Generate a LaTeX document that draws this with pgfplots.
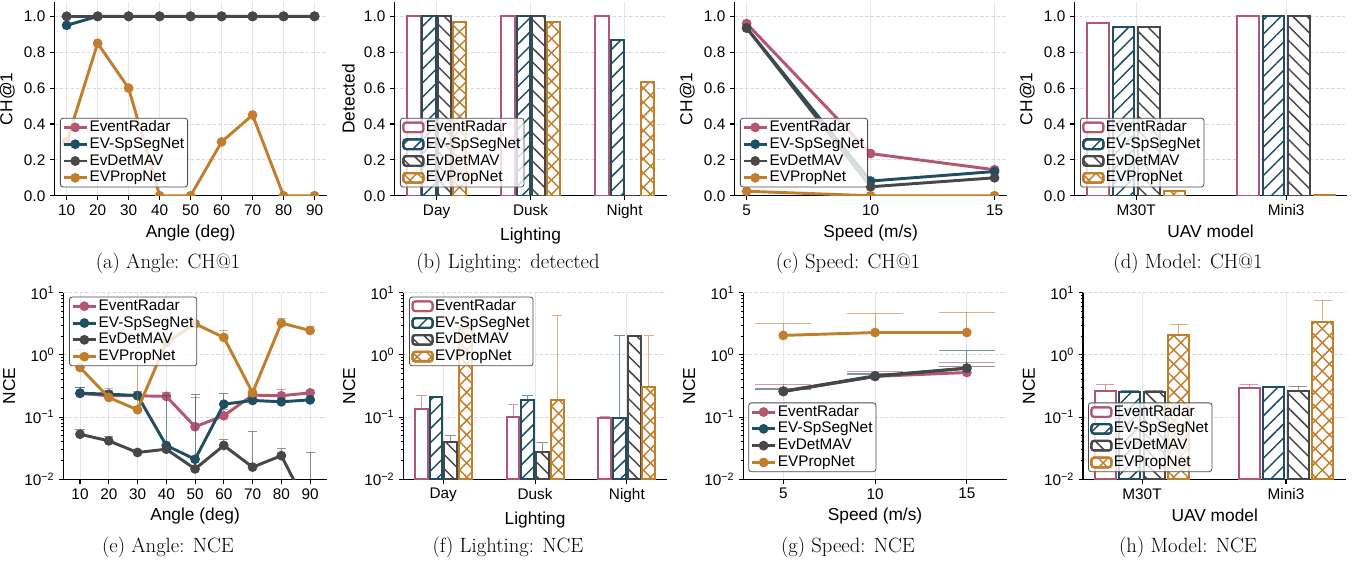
\documentclass[border=0pt]{standalone}
\usepackage{fontspec}
\setsansfont{Liberation Sans}
\usepackage{pgfplots}
\pgfplotsset{compat=1.18}
\usetikzlibrary{patterns.meta}
\definecolor{cER}{HTML}{B5566F}
\definecolor{cSP}{HTML}{1D4E63}
\definecolor{cDT}{HTML}{474747}
\definecolor{cPN}{HTML}{C17F2E}
\definecolor{gridc}{HTML}{E6E6E6}
\newcommand{\tickfont}{\sffamily\fontsize{11.5}{12}\selectfont}
\newcommand{\labfont}{\sffamily\fontsize{13}{14}\selectfont}
\newcommand{\legfont}{\sffamily\fontsize{11.5}{12}\selectfont}
\newcommand{\capfont}{\rmfamily\fontsize{15.5}{17}\selectfont}
\pgfplotsset{
  base/.style={
    scale only axis,
    axis lines*=left,
    axis line style={line width=1.1pt,-},
    tick style={black, line width=0.8pt},
    major tick length=3.2pt,
    minor tick length=1.8pt,
    tick align=outside,
    xmajorgrids, ymajorgrids,
    x grid style={gridc, line width=0.6pt, solid},
    y grid style={black!15, line width=0.6pt, dash pattern=on 2.5pt off 1.6pt},
    tick label style={font=\tickfont},
    label style={font=\labfont},
    legend style={font=\legfont, draw=black!70, line width=0.6pt, rounded corners=2pt,
      fill=white, fill opacity=0.8, draw opacity=1, text opacity=1,
      inner xsep=1.5pt, inner ysep=0.6pt,
      nodes={inner sep=1.1pt, text height=8.2pt, text depth=2.2pt}},
    legend cell align=left,
    clip marker paths=true,
  },
  toprow/.style={base, width=204.5pt, height=145.3pt, ymin=0, ymax=1.08,
    ytick={0,0.2,0.4,0.6,0.8,1.0}, yticklabels={0.0,0.2,0.4,0.6,0.8,1.0},
    legend style={at={(0.021,0.043)}, anchor=south west}},
  botrow/.style={base, width=197.6pt, height=140.1pt, ymin=0.01, ymax=10,
    ytick={0.01,0.1,1,10},
    yticklabels={10\textsuperscript{−2},10\textsuperscript{−1},10\textsuperscript{0},10\textsuperscript{1}},
    minor ytick={0.02,0.03,0.04,0.05,0.06,0.07,0.08,0.09,0.2,0.3,0.4,0.5,0.6,0.7,0.8,0.9,2,3,4,5,6,7,8,9},
    ylabel={NCE}},
  lER/.style={color=cER, line width=2.2pt, mark=*, mark size=2.5pt, mark options={solid}},
  lSP/.style={color=cSP, line width=2.2pt, mark=*, mark size=2.5pt, mark options={solid}},
  lDT/.style={color=cDT, line width=2.2pt, mark=*, mark size=2.5pt, mark options={solid}},
  lPN/.style={color=cPN, line width=2.2pt, mark=*, mark size=2.5pt, mark options={solid}},
  eb/.style={error bars/y dir=plus, error bars/y explicit,
    error bars/error bar style={line width=0.75pt, opacity=0.6, solid},
    error bars/error mark options={rotate=90, mark size=#1, line width=0.75pt, opacity=0.6}},
  bbase/.style={ybar, bar shift=0pt, line width=1.5pt,
    legend image code/.code={\draw[##1] (0pt,-3.6pt) rectangle (15pt,3.6pt);}},
  bER/.style={bbase, color=cER, draw=cER, preaction={fill=white}},
  bSP/.style={bbase, color=cSP, draw=cSP, preaction={fill=white},
    preaction={pattern={Lines[angle=45,distance=7.5pt,line width=1.1pt]}, pattern color=cSP}},
  bDT/.style={bbase, color=cDT, draw=cDT, preaction={fill=white},
    preaction={pattern={Lines[angle=-45,distance=7.5pt,line width=1.1pt]}, pattern color=cDT}},
  bPN/.style={bbase, color=cPN, draw=cPN, preaction={fill=white},
    preaction={pattern={Lines[angle=45,distance=7.5pt,line width=1.1pt]}, pattern color=cPN},
    preaction={pattern={Lines[angle=-45,distance=7.5pt,line width=1.1pt]}, pattern color=cPN}},
}
\begin{document}
\begin{tikzpicture}
\path[use as bounding box] (0,0) rectangle (1017.75pt,421.5pt);
% ---------------- (a)
\begin{axis}[toprow, at={(40.7pt,274.7pt)}, anchor=south west, xmin=6, xmax=94,
  xtick={10,20,30,40,50,60,70,80,90}, xticklabels={10,20,30,40,50,60,70,80,90},
  xlabel={Angle (deg)}, ylabel={CH@1}]
\addplot[lER] coordinates {(10,1)(20,1)(30,1)(40,1)(50,1)(60,1)(70,1)(80,1)(90,1)};
\addlegendentry{EventRadar}
\addplot[lSP] coordinates {(10,0.95)(20,1)(30,1)(40,1)(50,1)(60,1)(70,1)(80,1)(90,1)};
\addlegendentry{EV-SpSegNet}
\addplot[lDT] coordinates {(10,1)(20,1)(30,1)(40,1)(50,1)(60,1)(70,1)(80,1)(90,1)};
\addlegendentry{EvDetMAV}
\addplot[lPN] coordinates {(10,0.3)(20,0.85)(30,0.6)(40,0)(50,0)(60,0.3)(70,0.45)(80,0)(90,0)};
\addlegendentry{EVPropNet}
\end{axis}
% ---------------- (b)
\begin{axis}[toprow, at={(295.7pt,274.7pt)}, anchor=south west, xmin=-0.45, xmax=2.45,
  xtick={0,1,2}, xticklabels={Day,Dusk,Night}, bar width=0.14,
  xlabel={Lighting}, ylabel={Detected}]
\addplot[bER] coordinates {(-0.24,1)(0.76,1)(1.76,1)};
\addlegendentry{EventRadar}
\addplot[bSP] coordinates {(-0.08,1)(0.92,1)(1.92,0.87)};
\addlegendentry{EV-SpSegNet}
\addplot[bDT] coordinates {(0.08,1)(1.08,1)(2.08,0)};
\addlegendentry{EvDetMAV}
\addplot[bPN] coordinates {(0.24,0.97)(1.24,0.97)(2.24,0.635)};
\addlegendentry{EVPropNet}
\end{axis}
% ---------------- (c)
\begin{axis}[toprow, at={(550.7pt,274.7pt)}, anchor=south west, xmin=4.5, xmax=15.5,
  xtick={5,10,15}, xticklabels={5,10,15},
  xlabel={Speed (m/s)}, ylabel={CH@1}]
\addplot[lER] coordinates {(5,0.96)(10,0.235)(15,0.145)};
\addlegendentry{EventRadar}
\addplot[lSP] coordinates {(5,0.935)(10,0.082)(15,0.135)};
\addlegendentry{EV-SpSegNet}
\addplot[lDT] coordinates {(5,0.935)(10,0.05)(15,0.10)};
\addlegendentry{EvDetMAV}
\addplot[lPN] coordinates {(5,0.025)(10,0.0)(15,0.0)};
\addlegendentry{EVPropNet}
\end{axis}
% ---------------- (d)
\begin{axis}[toprow, at={(805.7pt,274.7pt)}, anchor=south west, xmin=-0.413, xmax=1.405,
  xtick={0,1}, xticklabels={M30T,Mini3}, bar width=0.145,
  xlabel={UAV model}, ylabel={CH@1}]
\addplot[bER] coordinates {(-0.255,0.965)(0.745,1.0)};
\addlegendentry{EventRadar}
\addplot[bSP] coordinates {(-0.085,0.94)(0.915,1.0)};
\addlegendentry{EV-SpSegNet}
\addplot[bDT] coordinates {(0.085,0.94)(1.085,1.0)};
\addlegendentry{EvDetMAV}
\addplot[bPN] coordinates {(0.255,0.025)(1.255,0.004)};
\addlegendentry{EVPropNet}
\end{axis}
% ---------------- (e)
\begin{semilogyaxis}[botrow, at={(47.5pt,62pt)}, anchor=south west, xmin=4.2, xmax=95.8,
  xtick={10,20,30,40,50,60,70,80,90}, xticklabels={10,20,30,40,50,60,70,80,90},
  xlabel={Angle (deg)},
  legend style={at={(0.022,0.978)}, anchor=north west}]
\addplot[lER, eb=3.4pt] coordinates {(10,0.24)+-(0,0.06)(20,0.22)+-(0,0.05)(30,0.22)+-(0,0.04)(40,0.215)+-(0,0.035)(50,0.07)+-(0,0.14)(60,0.105)+-(0,0.025)(70,0.225)+-(0,0.035)(80,0.22)+-(0,0.06)(90,0.245)+-(0,0.025)};
\addlegendentry{EventRadar}
\addplot[lSP, eb=3.4pt] coordinates {(10,0.242)+-(0,0.058)(20,0.233)+-(0,0.017)(30,0.222)+-(0,0.013)(40,0.035)+-(0,0.185)(50,0.021)+-(0,0.207)(60,0.161)+-(0,0.075)(70,0.185)+-(0,0.015)(80,0.176)+-(0,0.014)(90,0.189)+-(0,0.011)};
\addlegendentry{EV-SpSegNet}
\addplot[lDT, eb=3.4pt] coordinates {(10,0.053)+-(0,0.011)(20,0.0415)+-(0,0.0065)(30,0.027)+-(0,0.002)(40,0.0305)+-(0,0.0035)(50,0.0147)+-(0,0.0013)(60,0.035)+-(0,0.008)(70,0.0157)+-(0,0.042)(80,0.024)+-(0,0.007)(90,0.003)+-(0,0.024)};
\addlegendentry{EvDetMAV}
\addplot[lPN, eb=3.4pt] coordinates {(10,0.626)+-(0,0.57)(20,0.206)+-(0,0.084)(30,0.131)+-(0,1.17)(40,1.58)+-(0,0.42)(50,3.15)+-(0,0.25)(60,1.9)+-(0,0.56)(70,0.245)+-(0,0.035)(80,3.23)+-(0,0.57)(90,2.46)+-(0,0.34)};
\addlegendentry{EVPropNet}
\end{semilogyaxis}
% ---------------- (f)
\begin{semilogyaxis}[botrow, log origin y=infty, at={(302.5pt,62pt)}, anchor=south west, xmin=-0.435, xmax=2.435,
  xtick={0,1,2}, xticklabels={Day,Dusk,Night}, bar width=0.14,
  xlabel={Lighting},
  legend style={at={(0.022,0.978)}, anchor=north west}]
\addplot[bER, eb=4pt] coordinates {(-0.24,0.134)+-(0,0.088)(0.76,0.10)+-(0,0.057)(1.76,0.095)+-(0,0.006)};
\addlegendentry{EventRadar}
\addplot[bSP, eb=4pt] coordinates {(-0.08,0.209)+-(0,0.006)(0.92,0.189)+-(0,0.031)(1.92,0.095)+-(0,1.925)};
\addlegendentry{EV-SpSegNet}
\addplot[bDT, eb=4pt] coordinates {(0.08,0.0395)+-(0,0.011)(1.08,0.027)+-(0,0.0115)(2.08,2.02)+-(0,0)};
\addlegendentry{EvDetMAV}
\addplot[bPN, eb=4pt] coordinates {(0.24,2.7)+-(0,0.3)(1.24,0.185)+-(0,4.1)(2.24,0.302)+-(0,1.72)};
\addlegendentry{EVPropNet}
\end{semilogyaxis}
% ---------------- (g)
\begin{semilogyaxis}[botrow, at={(557.5pt,62pt)}, anchor=south west, xmin=2.82, xmax=17.18,
  xtick={5,10,15}, xticklabels={5,10,15},
  xlabel={Speed (m/s)},
  legend style={at={(0.019,0.039)}, anchor=south west}]
\addplot[lER, eb=21pt] coordinates {(5,0.26)+-(0,0.078)(10,0.45)+-(0,0.09)(15,0.52)+-(0,0.233)};
\addlegendentry{EventRadar}
\addplot[lSP, eb=21pt] coordinates {(5,0.26)+-(0,0.02)(10,0.46)+-(0,0.05)(15,0.61)+-(0,0.56)};
\addlegendentry{EV-SpSegNet}
\addplot[lDT, eb=21pt] coordinates {(5,0.257)+-(0,0.027)(10,0.449)+-(0,0.028)(15,0.61)+-(0,0.04)};
\addlegendentry{EvDetMAV}
\addplot[lPN, eb=21pt] coordinates {(5,2.05)+-(0,1.1)(10,2.28)+-(0,2.39)(15,2.28)+-(0,2.51)};
\addlegendentry{EVPropNet}
\end{semilogyaxis}
% ---------------- (h)
\begin{semilogyaxis}[botrow, log origin y=infty, at={(812.25pt,62pt)}, anchor=south west, xmin=-0.41, xmax=1.42,
  xtick={0,1}, xticklabels={M30T,Mini3}, bar width=0.145,
  xlabel={UAV model},
  legend style={at={(0.019,0.039)}, anchor=south west}]
\addplot[bER, eb=6.8pt] coordinates {(-0.255,0.264)+-(0,0.066)(0.745,0.288)+-(0,0.05)};
\addlegendentry{EventRadar}
\addplot[bSP, eb=6.8pt] coordinates {(-0.085,0.257)+-(0,0.013)(0.915,0.299)+-(0,0.003)};
\addlegendentry{EV-SpSegNet}
\addplot[bDT, eb=6.8pt] coordinates {(0.085,0.257)+-(0,0.011)(1.085,0.261)+-(0,0.049)};
\addlegendentry{EvDetMAV}
\addplot[bPN, eb=6.8pt] coordinates {(0.255,2.05)+-(0,1.06)(1.255,3.39)+-(0,4.17)};
\addlegendentry{EVPropNet}
\end{semilogyaxis}
% ---------------- captions
\node[anchor=base, font=\capfont] at (126pt,220.1pt) {(a) Angle: CH@1};
\node[anchor=base, font=\capfont] at (381pt,220.1pt) {(b) Lighting: detected};
\node[anchor=base, font=\capfont] at (636pt,220.1pt) {(c) Speed: CH@1};
\node[anchor=base, font=\capfont] at (891pt,220.1pt) {(d) Model: CH@1};
\node[anchor=base, font=\capfont] at (126pt,7.5pt) {(e) Angle: NCE};
\node[anchor=base, font=\capfont] at (381pt,7.5pt) {(f) Lighting: NCE};
\node[anchor=base, font=\capfont] at (636pt,7.5pt) {(g) Speed: NCE};
\node[anchor=base, font=\capfont] at (891pt,7.5pt) {(h) Model: NCE};
\end{tikzpicture}
\end{document}
